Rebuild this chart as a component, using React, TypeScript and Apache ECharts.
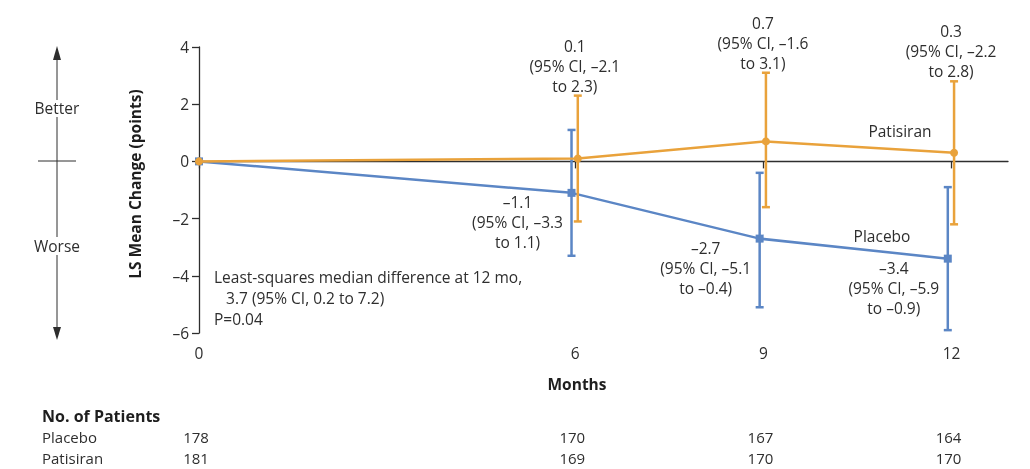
import React, { useEffect, useRef } from 'react';
import * as echarts from 'echarts';

// ---- data ----
const months = [0, 6, 9, 12];
const placeboMean = [0, -1.1, -2.7, -3.4];
const placeboLow = [null, -3.3, -5.1, -5.9];
const placeboHigh = [null, 1.1, -0.4, -0.9];
const patisiranMean = [0, 0.1, 0.7, 0.3];
const patisiranLow = [null, -2.1, -1.6, -2.2];
const patisiranHigh = [null, 2.3, 3.1, 2.8];
const placeboN = [178, 170, 167, 164];
const patisiranN = [181, 169, 170, 170];
const xTicks = [0, 6, 9, 12];
const noteLines = [
  'Least-squares median difference at 12 mo,',
  '   3.7 (95% CI, 0.2 to 7.2)',
  'P=0.04',
];

const BLUE = '#5b86c5';
const ORANGE = '#e9a23b';
const INK = '#2e2e2e';
const FONT = '"Open Sans", sans-serif';
const FS = 15.5;
const BFS = 15.5;
const TFS = 15;
const ROW_Y = [437, 458];
const placeboDodge = -0.06;
const patisiranDodge = 0.04;

const fmt = (v: number) => (v < 0 ? '–' + Math.abs(v).toFixed(1) : v.toFixed(1));

function errRender(color: string, side: 'top' | 'left') {
  return (params: any, api: any) => {
    const x = api.value(0);
    const lo = api.value(1);
    const hi = api.value(2);
    const m = api.value(3);
    const pLo = api.coord([x, lo]);
    const pHi = api.coord([x, hi]);
    const pM = api.coord([x, m]);
    const cap = 4;
    const st = { stroke: color, lineWidth: 2.5 };
    const children: any[] = [
      { type: 'line', shape: { x1: pLo[0], y1: pLo[1], x2: pHi[0], y2: pHi[1] }, style: st },
      { type: 'line', shape: { x1: pLo[0] - cap, y1: pLo[1], x2: pLo[0] + cap, y2: pLo[1] }, style: st },
      { type: 'line', shape: { x1: pHi[0] - cap, y1: pHi[1], x2: pHi[0] + cap, y2: pHi[1] }, style: st },
    ];
    const text = `${fmt(m)}\n(95% CI, ${fmt(lo)}\nto ${fmt(hi)})`;
    const tStyle = {
      text,
      fill: INK,
      fontFamily: FONT,
      fontSize: FS,
      lineHeight: 20,
      align: 'center',
    };
    if (side === 'top') {
      children.push({ type: 'text', x: pHi[0] - 3, y: pHi[1], style: { ...tStyle, verticalAlign: 'bottom' } });
    } else {
      children.push({ type: 'text', x: pM[0] - 54, y: pM[1] - 1, style: { ...tStyle, verticalAlign: 'top' } });
    }
    return { type: 'group', children };
  };
}

function countRender(params: any, api: any) {
  const x = api.value(0);
  const n = api.value(1);
  const row = api.value(2);
  const p = api.coord([x, 0]);
  return {
    type: 'text',
    x: p[0] - 3,
    y: ROW_Y[row],
    style: { text: String(n), fill: INK, fontFamily: FONT, fontSize: TFS, align: 'center', verticalAlign: 'middle' },
  };
}

export default function App() {
  const ref = useRef<HTMLDivElement>(null);
  useEffect(() => {
    if (!ref.current) return;
    const chart = echarts.init(ref.current, null, { renderer: 'svg' });

    const dodge = (i: number, d: number) => months[i] + (months[i] > 0 ? d : 0);
    const placeboLine = months.map((m, i) => [dodge(i, placeboDodge), placeboMean[i]]);
    const patisiranLine = months.map((m, i) => [dodge(i, patisiranDodge), patisiranMean[i]]);
    const placeboErr = months
      .map((m, i) => (placeboLow[i] == null ? null : [dodge(i, placeboDodge), placeboLow[i], placeboHigh[i], placeboMean[i]]))
      .filter(Boolean);
    const patisiranErr = months
      .map((m, i) => (patisiranLow[i] == null ? null : [dodge(i, patisiranDodge), patisiranLow[i], patisiranHigh[i], patisiranMean[i]]))
      .filter(Boolean);
    const counts = [
      ...months.map((m, i) => [m, placeboN[i], 0]),
      ...months.map((m, i) => [m, patisiranN[i], 1]),
    ];

    const txt = (text: string, x: number, y: number, extra: any = {}) => ({
      type: 'text',
      x,
      y,
      style: { text, fill: INK, fontFamily: FONT, fontSize: FS, align: 'left', verticalAlign: 'middle', ...extra },
    });
    const ln = (x1: number, y1: number, x2: number, y2: number) => ({
      type: 'line',
      shape: { x1, y1, x2, y2 },
      style: { stroke: INK, lineWidth: 1 },
    });

    chart.setOption({
      animation: false,
      grid: { left: 199, right: 22, top: 47, bottom: 136, outerBoundsMode: 'none' },
      xAxis: {
        type: 'value',
        min: 0,
        max: 12.9,
        axisLine: { show: true, lineStyle: { color: INK, width: 1.3 } },
        axisTick: { show: true, customValues: xTicks, length: 7, lineStyle: { color: INK, width: 1.3 } },
        axisLabel: { customValues: xTicks, color: INK, fontFamily: FONT, fontSize: FS, margin: 12 },
        splitLine: { show: false },
      },
      yAxis: {
        type: 'value',
        min: -6,
        max: 4,
        interval: 2,
        axisLine: { show: true, lineStyle: { color: INK, width: 1.3 } },
        axisTick: { show: true, length: 7, lineStyle: { color: INK, width: 1.3 } },
        axisLabel: {
          color: INK,
          fontFamily: FONT,
          fontSize: FS,
          margin: 10,
          formatter: (v: number) => (v < 0 ? '–' + Math.abs(v) : String(v)),
        },
        splitLine: { show: false },
      },
      series: [
        {
          type: 'line',
          name: 'Placebo',
          data: placeboLine,
          symbol: 'rect',
          symbolSize: 8,
          lineStyle: { color: BLUE, width: 2.5 },
          itemStyle: { color: BLUE },
          z: 3,
        },
        {
          type: 'line',
          name: 'Patisiran',
          data: patisiranLine,
          symbol: 'circle',
          symbolSize: 8,
          lineStyle: { color: ORANGE, width: 2.5 },
          itemStyle: { color: ORANGE },
          z: 4,
          markLine: {
            silent: true,
            symbol: 'none',
            label: { show: false },
            lineStyle: { color: INK, type: [5, 4], width: 1 },
            data: [{ yAxis: 0 }],
            z: 1,
          },
        },
        { type: 'custom', data: placeboErr, renderItem: errRender(BLUE, 'left'), z: 3 },
        { type: 'custom', data: patisiranErr, renderItem: errRender(ORANGE, 'top'), z: 4 },
        { type: 'custom', data: counts, renderItem: countRender, clip: false },
      ],
      graphic: [
        // better / worse arrow
        { type: 'polygon', shape: { points: [[57, 46], [53, 60], [61, 60]] }, style: { fill: INK } },
        ln(57, 60, 57, 100),
        txt('Better', 57, 108, { align: 'center' }),
        ln(57, 117, 57, 237),
        ln(38, 161, 76, 161),
        txt('Worse', 57, 246, { align: 'center' }),
        ln(57, 255, 57, 328),
        { type: 'polygon', shape: { points: [[53, 327], [61, 327], [57, 340]] }, style: { fill: INK } },
        // y axis title
        {
          type: 'text',
          x: 135,
          y: 184,
          rotation: Math.PI / 2,
          style: {
            text: 'LS Mean Change (points)',
            fill: '#1e1e1e',
            fontFamily: FONT,
            fontSize: BFS,
            fontWeight: 'bold',
            align: 'center',
            verticalAlign: 'middle',
          },
        },
        // series names
        txt('Patisiran', 900, 131, { align: 'center' }),
        txt('Placebo', 882, 236, { align: 'center' }),
        // note
        txt(noteLines[0], 214, 277),
        txt(noteLines[1], 214, 298),
        txt(noteLines[2], 214, 319),
        // x axis title
        txt('Months', 577, 384, { align: 'center', fontWeight: 'bold', fontSize: BFS, fill: '#1e1e1e' }),
        // patients table
        txt('No. of Patients', 42, 416, { fontWeight: 'bold', fontSize: 16, fill: '#1e1e1e' }),
        txt('Placebo', 42, ROW_Y[0], { fontSize: TFS }),
        txt('Patisiran', 42, ROW_Y[1], { fontSize: TFS }),
      ],
    });
    return () => chart.dispose();
  }, []);
  return <div ref={ref} style={{ position: 'fixed', left: 0, top: 0, width: 1030, height: 469 }} />;
}
